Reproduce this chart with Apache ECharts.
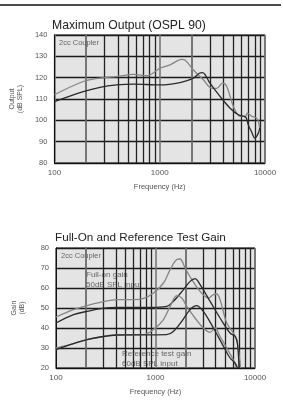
<!DOCTYPE html>
<html lang="en">
	<head>
		<meta charset="UTF-8" />
		<title>OSPL 90 and Gain</title>
		<script src="https://cdn.jsdelivr.net/npm/echarts@6/dist/echarts.min.js"></script>
		<style>
			* {
				margin: 0;
				padding: 0;
			}
			html,
			body {
				height: 100%;
				background: #fff;
			}
		</style>
	</head>
	<body>
		<div id="main" style="width:283px;height:405px;"></div>
		<script type="text/javascript">
			// frequency (Hz) / dB pairs
			var osplGray = [[100, 112], [188, 118.2], [271, 119.8], [390, 120.5], [562, 121.5], [753, 120.9], [1007, 124.4], [1254, 126], [1617, 128.6], [1735, 128.3], [2090, 123.6], [2600, 119], [3120, 115], [3480, 115], [3960, 117.4], [4325, 116], [5010, 106.5], [5800, 101.9], [6540, 102], [6790, 103.4], [7430, 102], [8320, 101], [8650, 99.5], [8900, 96]];
			var osplBlack = [[100, 108.8], [188, 113.5], [271, 115.5], [390, 116.6], [562, 117], [1007, 116.6], [1560, 117.7], [2090, 119.8], [2380, 122.1], [2550, 122.4], [3000, 117.4], [3740, 111.2], [4660, 105.7], [5590, 102.6], [6540, 101.5], [6780, 99.5], [7020, 97.2], [7430, 94.8], [8000, 91.7], [8650, 94], [8900, 96.4]];
			var fullOnGray = [[100, 45.5], [150, 49.2], [205, 51.2], [279, 52.8], [409, 54.2], [601, 54.2], [759, 54.8], [955, 57.5], [1203, 62.5], [1403, 69.2], [1636, 74.2], [1767, 74.5], [1983, 70], [2316, 64.2], [2807, 58.3], [3404, 55], [3820, 56.7], [4125, 57], [4454, 54.2], [5200, 42.5], [6063, 37.5], [6548, 34.2], [6950, 25.8], [7150, 20]];
			var fullOnBlack = [[100, 42.5], [150, 46.7], [205, 48.3], [279, 49.7], [409, 50.3], [885, 50.3], [1292, 50.8], [1510, 53.3], [1910, 59.2], [2226, 63.3], [2495, 64.7], [2807, 61.7], [3540, 53.3], [4454, 45], [5610, 37.5], [6300, 35.8], [6650, 32.5], [6900, 20]];
			var refGray = [[100, 30], [150, 32.2], [205, 34.2], [279, 35.5], [409, 36.7], [759, 36.7], [955, 39.2], [1203, 44.2], [1403, 50.8], [1636, 56.2], [1835, 55], [2060, 50.8], [2495, 45], [3025, 40], [3540, 37.8], [3970, 40], [4454, 35.8], [5200, 30], [6063, 24], [6548, 20]];
			var refBlack = [[100, 29.2], [150, 32.2], [205, 34.2], [279, 35.5], [409, 36.5], [1292, 36.7], [1510, 38.3], [1835, 43.3], [2226, 49.2], [2587, 51.2], [3025, 48.3], [3820, 40], [4820, 30.8], [5610, 25], [6300, 22.5], [6650, 20]];

			var minorFreqs = [200, 300, 400, 500, 600, 700, 800, 900, 2000, 3000, 4000, 5000, 6000, 7000, 8000, 9000];
			var osplTicks = [80, 140, 10];
			var gainTicks = [20, 80, 10];

			var txt = "Liberation Sans, Arial, sans-serif";

			function gridLines() {
				return {
					silent: true,
					symbol: "none",
					label: { show: false },
					lineStyle: { color: "#222", width: 1.3, type: "solid" },
					data: minorFreqs.map(function(f) {
						var lighter = f === 200 || f === 2000;
						return { xAxis: f, lineStyle: { color: lighter ? "#6a6a6a" : "#222", width: lighter ? 1.8 : 1.3 } };
					})
				};
			}

			function xAx(gridIndex) {
				return {
					type: "log",
					logBase: 10,
					gridIndex: gridIndex,
					min: 100,
					max: 10000,
					name: "Frequency (Hz)",
					nameLocation: "middle",
					nameGap: 20,
					nameTextStyle: { color: "#555", fontSize: 7.5, fontFamily: txt },
					axisLine: { lineStyle: { color: "#111", width: 1 } },
					axisTick: { show: false },
					axisLabel: {
						color: "#555",
						fontSize: 8,
						fontFamily: txt,
						margin: 6,
						formatter: function(v) {
							return String(Math.round(v));
						}
					},
					splitLine: { show: true, lineStyle: { color: "#777", width: 1.6 } }
				};
			}

			function yAx(gridIndex, t, name, gap) {
				return {
					type: "value",
					gridIndex: gridIndex,
					min: t[0],
					max: t[1],
					interval: t[2],
					name: name,
					nameLocation: "middle",
					nameRotate: 90,
					nameGap: gap,
					nameTextStyle: { color: "#555", fontSize: 7, fontFamily: txt, lineHeight: 8 },
					axisLine: { show: true, lineStyle: { color: "#111", width: 1 } },
					axisTick: { show: false },
					axisLabel: { color: "#555", fontSize: 7.5, fontFamily: txt, margin: 7 },
					splitLine: { show: true, lineStyle: { color: "#1a1a1a", width: 1.3 } }
				};
			}

			function line(data, color, xi, withGrid) {
				var s = {
					type: "line",
					xAxisIndex: xi,
					yAxisIndex: xi,
					data: data,
					smooth: 0.35,
					symbol: "none",
					clip: true,
					lineStyle: { color: color, width: 1.3 },
					z: 5
				};
				if (withGrid) s.markLine = gridLines();
				return s;
			}

			var myChart = echarts.init(document.getElementById("main"), null, { renderer: "canvas" });
			var option = {
				backgroundColor: "#fff",
				animation: false,
				title: [
					{ text: "Maximum Output (OSPL 90)", left: 47, top: 15, textStyle: { fontSize: 12.2, fontWeight: "normal", color: "#222", fontFamily: txt } },
					{ text: "Full-On and Reference Test Gain", left: 50, top: 227, textStyle: { fontSize: 11.7, fontWeight: "normal", color: "#222", fontFamily: txt } }
				],
				grid: [
					{ left: 54, right: 18, top: 35, height: 128, backgroundColor: "#e4e4e4", show: true, borderColor: "#111", borderWidth: 1 },
					{ left: 56, right: 28, top: 248, height: 120, backgroundColor: "#e4e4e4", show: true, borderColor: "#111", borderWidth: 1 }
				],
				xAxis: [xAx(0), xAx(1)],
				yAxis: [yAx(0, osplTicks, "Output\n(dB SPL)", 30), yAx(1, gainTicks, "Gain\n(dB)", 30)],
				graphic: [
					{ type: "line", shape: { x1: 0, y1: 5, x2: 281, y2: 5 }, style: { stroke: "#111", lineWidth: 1.5 } },
					{ type: "text", left: 59, top: 39, style: { text: "2cc Coupler", fill: "#666", fontSize: 7.5, fontFamily: txt } },
					{ type: "text", left: 61, top: 252, style: { text: "2cc Coupler", fill: "#666", fontSize: 7.5, fontFamily: txt } },
					{ type: "text", left: 86, top: 270, style: { text: "Full-on gain\n50dB SPL input", fill: "#666", fontSize: 8, lineHeight: 10, align: "center", fontFamily: txt } },
					{ type: "text", left: 122, top: 349, style: { text: "Reference test gain\n60dB SPL input", fill: "#666", fontSize: 8, lineHeight: 10, align: "center", fontFamily: txt } }
				],
				series: [
					line(osplGray, "#858585", 0, true),
					line(osplBlack, "#2a2a2a", 0, false),
					line(fullOnGray, "#858585", 1, true),
					line(fullOnBlack, "#2a2a2a", 1, false),
					line(refGray, "#858585", 1, false),
					line(refBlack, "#2a2a2a", 1, false)
				]
			};
			myChart.setOption(option);
		</script>
	</body>
</html>
